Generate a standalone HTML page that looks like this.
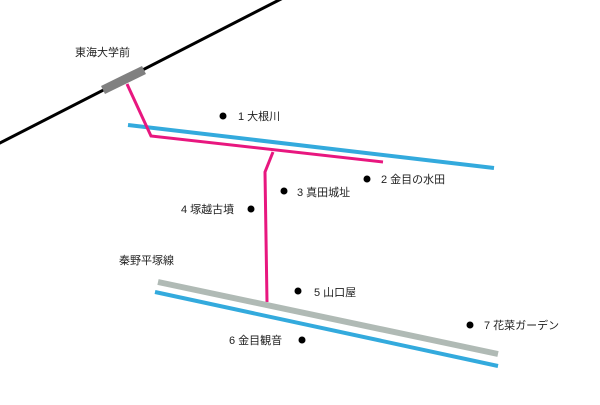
<!DOCTYPE html>
<html><head><meta charset="utf-8"><style>
body{margin:0;background:#fff}
text{font-family:"Liberation Sans","Noto Sans CJK JP",sans-serif;font-size:11px;fill:#222}
</style></head><body>
<svg width="600" height="400" xmlns="http://www.w3.org/2000/svg">
<line x1="-2" y1="144" x2="283" y2="-2" stroke="#000" stroke-width="3"/>
<line x1="103" y1="90" x2="144" y2="70" stroke="#808080" stroke-width="9"/>
<line x1="128" y1="125" x2="494" y2="168" stroke="#33aadd" stroke-width="4"/>
<polyline points="127,84 151,136 383,162" fill="none" stroke="#e8177f" stroke-width="3"/>
<polyline points="273,152 265,172 267,302" fill="none" stroke="#e8177f" stroke-width="3"/>
<line x1="158" y1="282" x2="498" y2="354" stroke="#b0bab5" stroke-width="6"/>
<line x1="155" y1="292" x2="498" y2="366" stroke="#33aadd" stroke-width="4"/>
<g fill="#000">
<circle cx="223" cy="116" r="3.5"/><circle cx="367" cy="179" r="3.5"/>
<circle cx="284" cy="191" r="3.5"/><circle cx="251" cy="209" r="3.5"/>
<circle cx="298" cy="291" r="3.5"/><circle cx="470" cy="325" r="3.5"/>
<circle cx="302" cy="340" r="3.5"/>
</g>
<text x="75" y="56">東海大学前</text>
<text x="238" y="120">1 大根川</text>
<text x="381" y="183">2 金目の水田</text>
<text x="297" y="196">3 真田城址</text>
<text x="181" y="213">4 塚越古墳</text>
<text x="314" y="296">5 山口屋</text>
<text x="229" y="344">6 金目観音</text>
<text x="484" y="329">7 花菜ガーデン</text>
<text x="119" y="264">秦野平塚線</text>
</svg>
</body></html>
